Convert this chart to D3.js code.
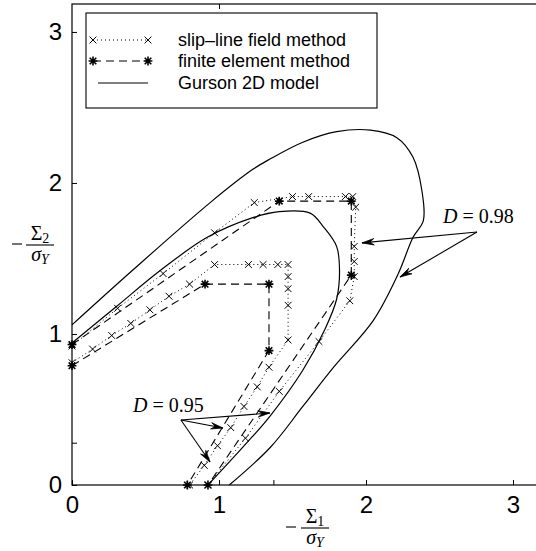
<!DOCTYPE html>
<html>
<head>
<meta charset="utf-8">
<script src="https://cdn.jsdelivr.net/npm/d3@7"></script>
<style>
  body { margin: 0; background: #fff; }
  svg { display: block; }
  .tick text { font-family: "Liberation Sans", Arial, Helvetica, sans-serif; font-size: 24px; fill: #000; }
  .tick line { stroke: #000; stroke-width: 1; }
</style>
</head>
<body>
<svg id="chart" width="536" height="551"></svg>
<script>
// Axis ticks
const xTickValues = [0, 1, 1.37, 2, 3];
const yTickValues = [0, 0.28, 1, 2, 3];
const xTopTickValues = [1];
const labelledTicks = [0, 1, 2, 3];

// Gurson 2D model, D = 0.98 (outer) and D = 0.95 (inner)
const gursonOuterX = [0, 0.41, 0.94, 1.23, 1.35, 1.57, 1.80, 2.03, 2.21, 2.32, 2.38, 2.39, 2.32, 2.22, 2.05, 1.78, 1.57, 1.35, 1.07];
const gursonOuterY = [1.06, 1.42, 1.87, 2.09, 2.16, 2.27, 2.34, 2.35, 2.30, 2.17, 1.95, 1.75, 1.64, 1.40, 1.09, 0.78, 0.52, 0.25, 0];
const gursonInnerX = [0, 0.30, 0.60, 0.92, 1.23, 1.41, 1.62, 1.71, 1.80, 1.82, 1.80, 1.72, 1.57, 1.35, 1.19, 0.925];
const gursonInnerY = [0.94, 1.18, 1.42, 1.64, 1.77, 1.81, 1.80, 1.71, 1.58, 1.42, 1.23, 1.03, 0.76, 0.46, 0.28, 0];

// Slip-line field method, D = 0.98 (outer) and D = 0.95 (inner)
const slipOuterX = [0, 0.31, 0.62, 0.97, 1.24, 1.50, 1.61, 1.86, 1.91, 1.93, 1.92, 1.92, 1.92, 1.89, 1.68, 1.41, 1.18, 0.925];
const slipOuterY = [0.92, 1.17, 1.40, 1.67, 1.87, 1.91, 1.91, 1.91, 1.91, 1.84, 1.58, 1.48, 1.38, 1.22, 0.95, 0.62, 0.31, 0];
const slipInnerX = [0, 0.14, 0.27, 0.40, 0.53, 0.66, 0.80, 0.97, 1.20, 1.30, 1.40, 1.47, 1.47, 1.47, 1.47, 1.47, 1.34, 1.26, 1.17, 1.08, 0.99, 0.90, 0.80];
const slipInnerY = [0.81, 0.90, 0.99, 1.07, 1.16, 1.25, 1.33, 1.46, 1.46, 1.46, 1.46, 1.46, 1.38, 1.30, 1.19, 0.96, 0.78, 0.65, 0.52, 0.38, 0.26, 0.13, 0];

// Finite element method, D = 0.98 (outer) and D = 0.95 (inner)
const femOuterX = [0, 1.41, 1.90, 1.90, 0.925];
const femOuterY = [0.93, 1.88, 1.88, 1.39, 0];
const femInnerX = [0, 0.905, 1.34, 1.34, 0.785];
const femInnerY = [0.79, 1.33, 1.33, 0.89, 0];

// Legend entries
const legendLabels = ["slip\u2013line field method", "finite element method", "Gurson 2D model"];

const svg = d3.select("#chart");
const x = d3.scaleLinear().domain([0, 3.2]).range([72, 542.4]);
const y = d3.scaleLinear().domain([0, 3.185]).range([485, 4]);

const zip = (xs, ys) => xs.map((v, i) => [v, ys[i]]);
const lineStraight = d3.line().x(d => x(d[0])).y(d => y(d[1]));
const lineSmooth = d3.line().x(d => x(d[0])).y(d => y(d[1])).curve(d3.curveCatmullRom.alpha(0.5));

// Frame
svg.append("rect")
  .attr("x", x(0)).attr("y", y(3.185))
  .attr("width", x(3.2) - x(0)).attr("height", y(0) - y(3.185))
  .attr("fill", "none").attr("stroke", "#000").attr("stroke-width", 1.2);

// Axes with inward ticks
const fmt = d => labelledTicks.includes(d) ? d3.format("d")(d) : "";
svg.append("g").attr("transform", `translate(0,${y(0)})`)
  .call(d3.axisBottom(x).tickValues(xTickValues).tickFormat(fmt).tickSizeInner(-5).tickSizeOuter(0).tickPadding(11))
  .call(g => g.select(".domain").remove());
svg.append("g").attr("transform", `translate(${x(0)},0)`)
  .call(d3.axisLeft(y).tickValues(yTickValues).tickFormat(fmt).tickSizeInner(-5).tickSizeOuter(0).tickPadding(10))
  .call(g => g.select(".domain").remove());
svg.append("g").attr("transform", `translate(0,${y(3.185)})`)
  .call(d3.axisTop(x).tickValues(xTopTickValues).tickFormat("").tickSizeInner(-5).tickSizeOuter(0))
  .call(g => g.select(".domain").remove());

const plot = svg.append("g");

// Marker glyphs
function crossMarker(g, px, py) {
  const s = 3.4;
  g.append("path")
    .attr("d", `M${px - s},${py - s}L${px + s},${py + s}M${px - s},${py + s}L${px + s},${py - s}`)
    .attr("stroke", "#000").attr("stroke-width", 1).attr("fill", "none");
}
function starMarker(g, px, py) {
  const s = 4.4, d = 3.3;
  g.append("path")
    .attr("d", `M${px - s},${py}L${px + s},${py}M${px},${py - s}L${px},${py + s}` +
               `M${px - d},${py - d}L${px + d},${py + d}M${px - d},${py + d}L${px + d},${py - d}`)
    .attr("stroke", "#000").attr("stroke-width", 1.6).attr("fill", "none");
}

// Gurson curves
[zip(gursonOuterX, gursonOuterY), zip(gursonInnerX, gursonInnerY)].forEach(pts => {
  plot.append("path").attr("d", lineSmooth(pts))
    .attr("fill", "none").attr("stroke", "#000").attr("stroke-width", 1.2);
});

// Slip-line field paths (dotted with crosses)
[zip(slipOuterX, slipOuterY), zip(slipInnerX, slipInnerY)].forEach(pts => {
  plot.append("path").attr("d", lineStraight(pts))
    .attr("fill", "none").attr("stroke", "#000").attr("stroke-width", 1)
    .attr("stroke-dasharray", "1,3");
  pts.forEach(p => crossMarker(plot, x(p[0]), y(p[1])));
});

// Finite element paths (dashed with stars)
[zip(femOuterX, femOuterY), zip(femInnerX, femInnerY)].forEach(pts => {
  plot.append("path").attr("d", lineStraight(pts))
    .attr("fill", "none").attr("stroke", "#000").attr("stroke-width", 1.1)
    .attr("stroke-dasharray", "8,5");
  pts.forEach(p => starMarker(plot, x(p[0]), y(p[1])));
});

// Annotation arrows
function arrow(from, to) {
  const x0 = x(from[0]), y0 = y(from[1]), x1 = x(to[0]), y1 = y(to[1]);
  const ang = Math.atan2(y1 - y0, x1 - x0);
  const L = 12, W = 3.2;
  const bx = x1 - L * Math.cos(ang), by = y1 - L * Math.sin(ang);
  const nx = -Math.sin(ang) * W, ny = Math.cos(ang) * W;
  plot.append("line").attr("x1", x0).attr("y1", y0).attr("x2", x1).attr("y2", y1)
    .attr("stroke", "#000").attr("stroke-width", 1.1);
  plot.append("path")
    .attr("d", `M${x1},${y1}L${bx + nx},${by + ny}L${bx + 0.35 * (x1 - bx)},${by + 0.35 * (y1 - by)}L${bx - nx},${by - ny}Z`)
    .attr("fill", "#000").attr("stroke", "#000").attr("stroke-width", 0.8);
}
function dLabel(pos, value) {
  const t = svg.append("text").attr("x", x(pos[0])).attr("y", y(pos[1]))
    .attr("font-family", "'Liberation Serif', 'Times New Roman', serif").attr("font-size", 20);
  t.append("tspan").attr("font-style", "italic").text("D");
  t.append("tspan").text(" = " + value);
}
dLabel([2.524, 1.735], "0.98");
arrow([2.755, 1.675], [1.973, 1.603]);
arrow([2.755, 1.675], [2.231, 1.377]);
dLabel([0.415, 0.483], "0.95");
arrow([0.741, 0.430], [1.347, 0.477]);
arrow([0.741, 0.430], [1.027, 0.377]);
arrow([0.741, 0.430], [0.939, 0.152]);

// Axis labels as stacked fractions
function fracLabel(cx, barY, minusX, numSub) {
  const g = svg.append("g").attr("font-family", "'Liberation Serif', 'Times New Roman', serif").attr("fill", "#000");
  g.append("line").attr("x1", minusX).attr("x2", minusX + 10).attr("y1", barY - 1).attr("y2", barY - 1)
    .attr("stroke", "#000").attr("stroke-width", 1.1);
  g.append("line").attr("x1", cx - 14).attr("x2", cx + 14).attr("y1", barY).attr("y2", barY)
    .attr("stroke", "#000").attr("stroke-width", 1.1);
  const num = g.append("text").attr("x", cx).attr("y", barY - 5).attr("text-anchor", "middle").attr("font-size", 20);
  num.append("tspan").text("\u03A3");
  num.append("tspan").attr("font-size", 14).attr("dy", 3).text(numSub);
  const den = g.append("text").attr("x", cx).attr("y", barY + 16).attr("text-anchor", "middle").attr("font-size", 20);
  den.append("tspan").attr("font-style", "italic").text("\u03C3");
  den.append("tspan").attr("font-size", 14).attr("dy", 3).attr("font-style", "italic").text("Y");
}
fracLabel(315, 528, 286, "1");
fracLabel(40, 245, 12, "2");

// Legend
const lg = svg.append("g");
lg.append("rect").attr("x", 86).attr("y", 13).attr("width", 291).attr("height", 95)
  .attr("fill", "#fff").attr("stroke", "#000").attr("stroke-width", 1.1);
const rowY = [40, 61, 83];
lg.append("line").attr("x1", 93).attr("x2", 148).attr("y1", rowY[0]).attr("y2", rowY[0])
  .attr("stroke", "#000").attr("stroke-dasharray", "1,3");
crossMarker(lg, 93, rowY[0]); crossMarker(lg, 148, rowY[0]);
lg.append("line").attr("x1", 93).attr("x2", 148).attr("y1", rowY[1]).attr("y2", rowY[1])
  .attr("stroke", "#000").attr("stroke-dasharray", "8,5");
starMarker(lg, 93, rowY[1]); starMarker(lg, 148, rowY[1]);
lg.append("line").attr("x1", 98).attr("x2", 148).attr("y1", rowY[2]).attr("y2", rowY[2])
  .attr("stroke", "#000").attr("stroke-width", 1.1);
legendLabels.forEach((t, i) => {
  lg.append("text").attr("x", 178).attr("y", rowY[i]).attr("dy", "0.35em")
    .attr("font-family", "'Liberation Sans', Arial, Helvetica, sans-serif").attr("font-size", 18)
    .text(t);
});
</script>
</body>
</html>
